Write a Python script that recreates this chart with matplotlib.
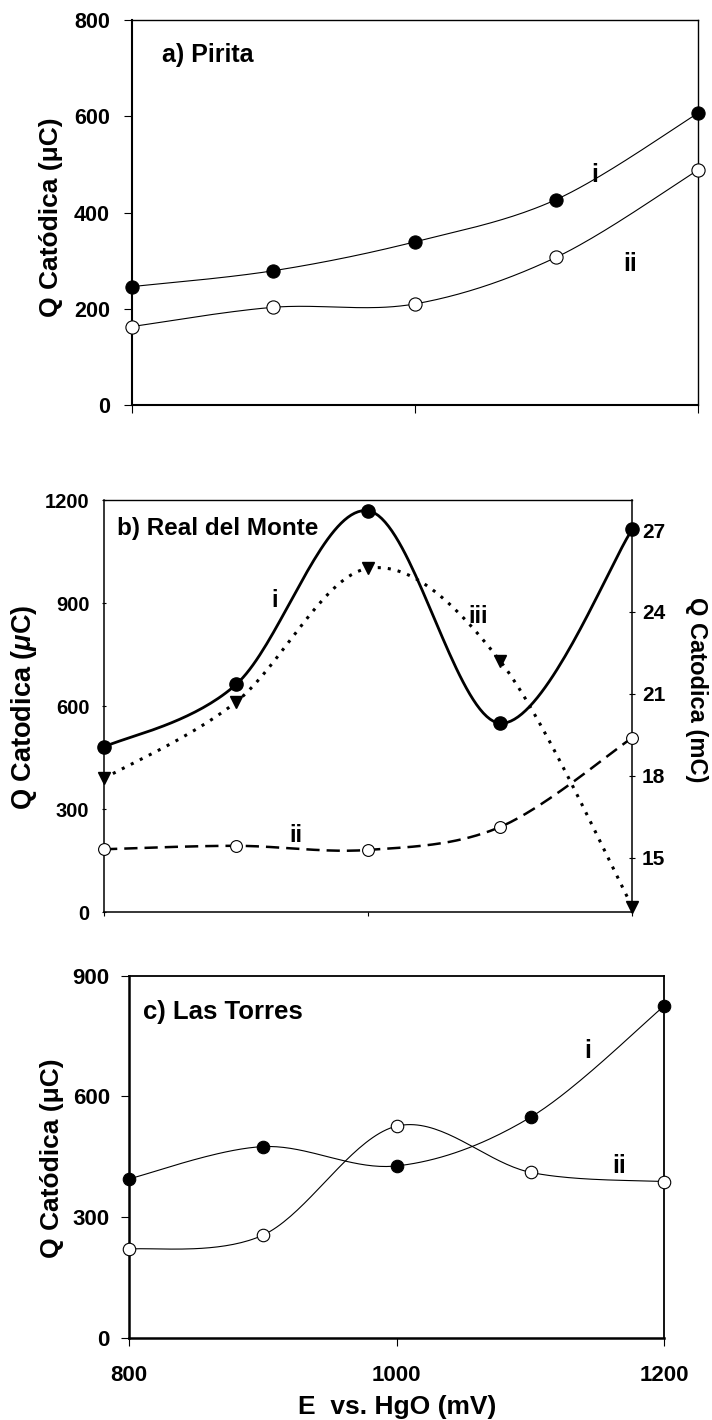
import numpy as np
import matplotlib
matplotlib.use("Agg")
import matplotlib.pyplot as plt

plt.rcParams['font.family'] = ['Liberation Sans', 'DejaVu Sans']
plt.rcParams['font.weight'] = 'bold'
plt.rcParams['mathtext.fontset'] = 'custom'
plt.rcParams['mathtext.rm'] = 'Liberation Sans:bold'
plt.rcParams['mathtext.it'] = 'Liberation Sans:bold:italic'

# Potential (mV vs. HgO)
E = [800, 900, 1000, 1100, 1200]

# a) Pirita, cathodic charge (uC)
pirita_i = [246, 279, 339, 427, 606]
pirita_ii = [163, 203, 210, 307, 488]

# b) Real del Monte: i, ii in uC (left axis), iii in mC (right axis)
rdm_i = [481, 663, 1169, 550, 1115]
rdm_ii = [183, 193, 181, 248, 508]
rdm_iii = [17.9, 20.7, 25.6, 22.2, 13.2]

# c) Las Torres, cathodic charge (uC)
torres_i = [395, 475, 427, 548, 825]
torres_ii = [220, 255, 526, 411, 388]

x_ticks = [800, 1000, 1200]


def smooth(ax, xs, ys, n=40):
    """Bezier smoothing through the points, computed in display space."""
    pts = ax.transData.transform(np.column_stack([xs, ys]).astype(float))
    out = [pts[0]]
    t = np.linspace(0, 1, n)[1:, None]
    for k in range(len(pts) - 1):
        p0 = pts[k - 1] if k > 0 else pts[k]
        p1, p2 = pts[k], pts[k + 1]
        p3 = pts[k + 2] if k + 2 < len(pts) else pts[k + 1]
        c1 = p1 + (p2 - p0) / 6.0
        c2 = p2 - (p3 - p1) / 6.0
        seg = ((1 - t) ** 3) * p1 + 3 * ((1 - t) ** 2) * t * c1 \
            + 3 * (1 - t) * (t ** 2) * c2 + (t ** 3) * p2
        out.extend(seg)
    out = np.array(out)
    return ax.transData.inverted().transform(out).T


def style_axes(ax, lw_main, lw_other, tick_len, tick_dir, label_size, pad):
    for side in ('left', 'bottom'):
        ax.spines[side].set_linewidth(lw_main)
    for side in ('top', 'right'):
        ax.spines[side].set_linewidth(lw_other)
    ax.tick_params(axis='both', direction=tick_dir, length=tick_len, width=0.8,
                   labelsize=label_size, pad=pad)
    ax.set_xlim(800, 1200)
    ax.set_xticks(x_ticks)


fig = plt.figure(figsize=(7.12, 14.2), dpi=100)

# ---------- a) Pirita ----------
axa = fig.add_axes([0.1854, 0.7148, 0.7945, 0.2711])
axa.set_ylim(0, 800)
axa.set_yticks([0, 200, 400, 600, 800])
style_axes(axa, 1.5, 1.0, 5.8, 'out', 15.5, 10)
axa.tick_params(axis='x', labelbottom=False)
for vals, face in ((pirita_i, 'black'), (pirita_ii, 'white')):
    sx, sy = smooth(axa, E, vals)
    axa.plot(sx, sy, color='black', lw=0.8, clip_on=False, zorder=2)
    axa.plot(E, vals, ls='none', marker='o', ms=9.5, mfc=face, mec='black',
             mew=0.8, clip_on=False, zorder=3)
axa.set_ylabel('Q Catódica (μC)', fontsize=19, fontweight='bold')
axa.yaxis.set_label_coords(-0.122, 0.487)
axa.text(821, 713, 'a) Pirita', fontsize=18, fontweight='bold', ha='left', va='baseline')
axa.text(1127, 464, 'i', fontsize=18, fontweight='bold', ha='center', va='baseline')
axa.text(1152, 279, 'ii', fontsize=18, fontweight='bold', ha='center', va='baseline')

# ---------- b) Real del Monte ----------
axb = fig.add_axes([0.1461, 0.3577, 0.7420, 0.2901])
axb.set_ylim(0, 1200)
axb.set_yticks([0, 300, 600, 900, 1200])
style_axes(axb, 1.1, 1.0, 3.2, 'inout', 14.5, 9)
axb.tick_params(axis='x', labelbottom=False, direction='out', length=3)
axb2 = axb.twinx()
axb2.set_ylim(13.0, 28.1)
axb2.set_yticks([15, 18, 21, 24, 27])
axb2.tick_params(axis='y', direction='inout', length=4, width=0.8, labelsize=15, pad=5)
for side in axb2.spines:
    axb2.spines[side].set_visible(False)
axb.spines['right'].set_linewidth(1.1)

sx, sy = smooth(axb, E, rdm_i)
axb.plot(sx, sy, color='black', lw=2.0, clip_on=False, zorder=2)
axb.plot(E, rdm_i, ls='none', marker='o', ms=9.5, mfc='black', mec='black',
         clip_on=False, zorder=3)

sx, sy = smooth(axb, E, rdm_ii)
axb.plot(sx, sy, color='black', lw=1.8, dashes=(5.3, 2.8), clip_on=False, zorder=2)
axb.plot(E, rdm_ii, ls='none', marker='o', ms=8.5, mfc='white', mec='black',
         mew=0.8, clip_on=False, zorder=3)

sx, sy = smooth(axb2, E, rdm_iii)
axb2.plot(sx, sy, color='black', lw=2.2, dashes=(1, 2.3), dash_capstyle='butt',
          clip_on=False, zorder=2)
axb2.plot(E, rdm_iii, ls='none', marker='v', ms=8.5, mfc='black', mec='black',
          clip_on=False, zorder=3)

axb.set_ylabel(r'Q Catodica ($\mu$C)', fontsize=19.5, fontweight='bold')
axb.yaxis.set_label_coords(-0.123, 0.496)
axb2.set_ylabel('Q Catodica (mC)', fontsize=17, fontweight='bold', rotation=-90)
axb2.yaxis.set_label_coords(1.143, 0.539)
axb.text(809.6, 1098, 'b) Real del Monte', fontsize=17.5, fontweight='bold',
         ha='left', va='baseline')
axb.text(929, 889, 'i', fontsize=17, fontweight='bold', ha='center', va='baseline')
axb.text(945, 203, 'ii', fontsize=17, fontweight='bold', ha='center', va='baseline')
axb.text(1083, 841, 'iii', fontsize=17, fontweight='bold', ha='center', va='baseline')

# ---------- c) Las Torres ----------
axc = fig.add_axes([0.1816, 0.0580, 0.7514, 0.2549])
axc.set_ylim(0, 900)
axc.set_yticks([0, 300, 600, 900])
style_axes(axc, 1.8, 1.3, 6.0, 'out', 16, 8)
axc.tick_params(axis='x', pad=14)
for vals, face in ((torres_i, 'black'), (torres_ii, 'white')):
    sx, sy = smooth(axc, E, vals)
    axc.plot(sx, sy, color='black', lw=0.8, clip_on=False, zorder=2)
    axc.plot(E, vals, ls='none', marker='o', ms=9, mfc=face, mec='black',
             mew=0.8, clip_on=False, zorder=3)
axc.set_ylabel('Q Catódica (μC)', fontsize=19, fontweight='bold')
axc.yaxis.set_label_coords(-0.122, 0.496)
axc.set_xlabel('E  vs. HgO (mV)', fontsize=19, fontweight='bold', labelpad=6)
axc.text(810.5, 791.6, 'c) Las Torres', fontsize=18.5, fontweight='bold',
         ha='left', va='baseline')
axc.text(1142.7, 694.7, 'i', fontsize=18, fontweight='bold', ha='center', va='baseline')
axc.text(1165.9, 410, 'ii', fontsize=18, fontweight='bold', ha='center', va='baseline')

fig.savefig('out.png', dpi=100)
